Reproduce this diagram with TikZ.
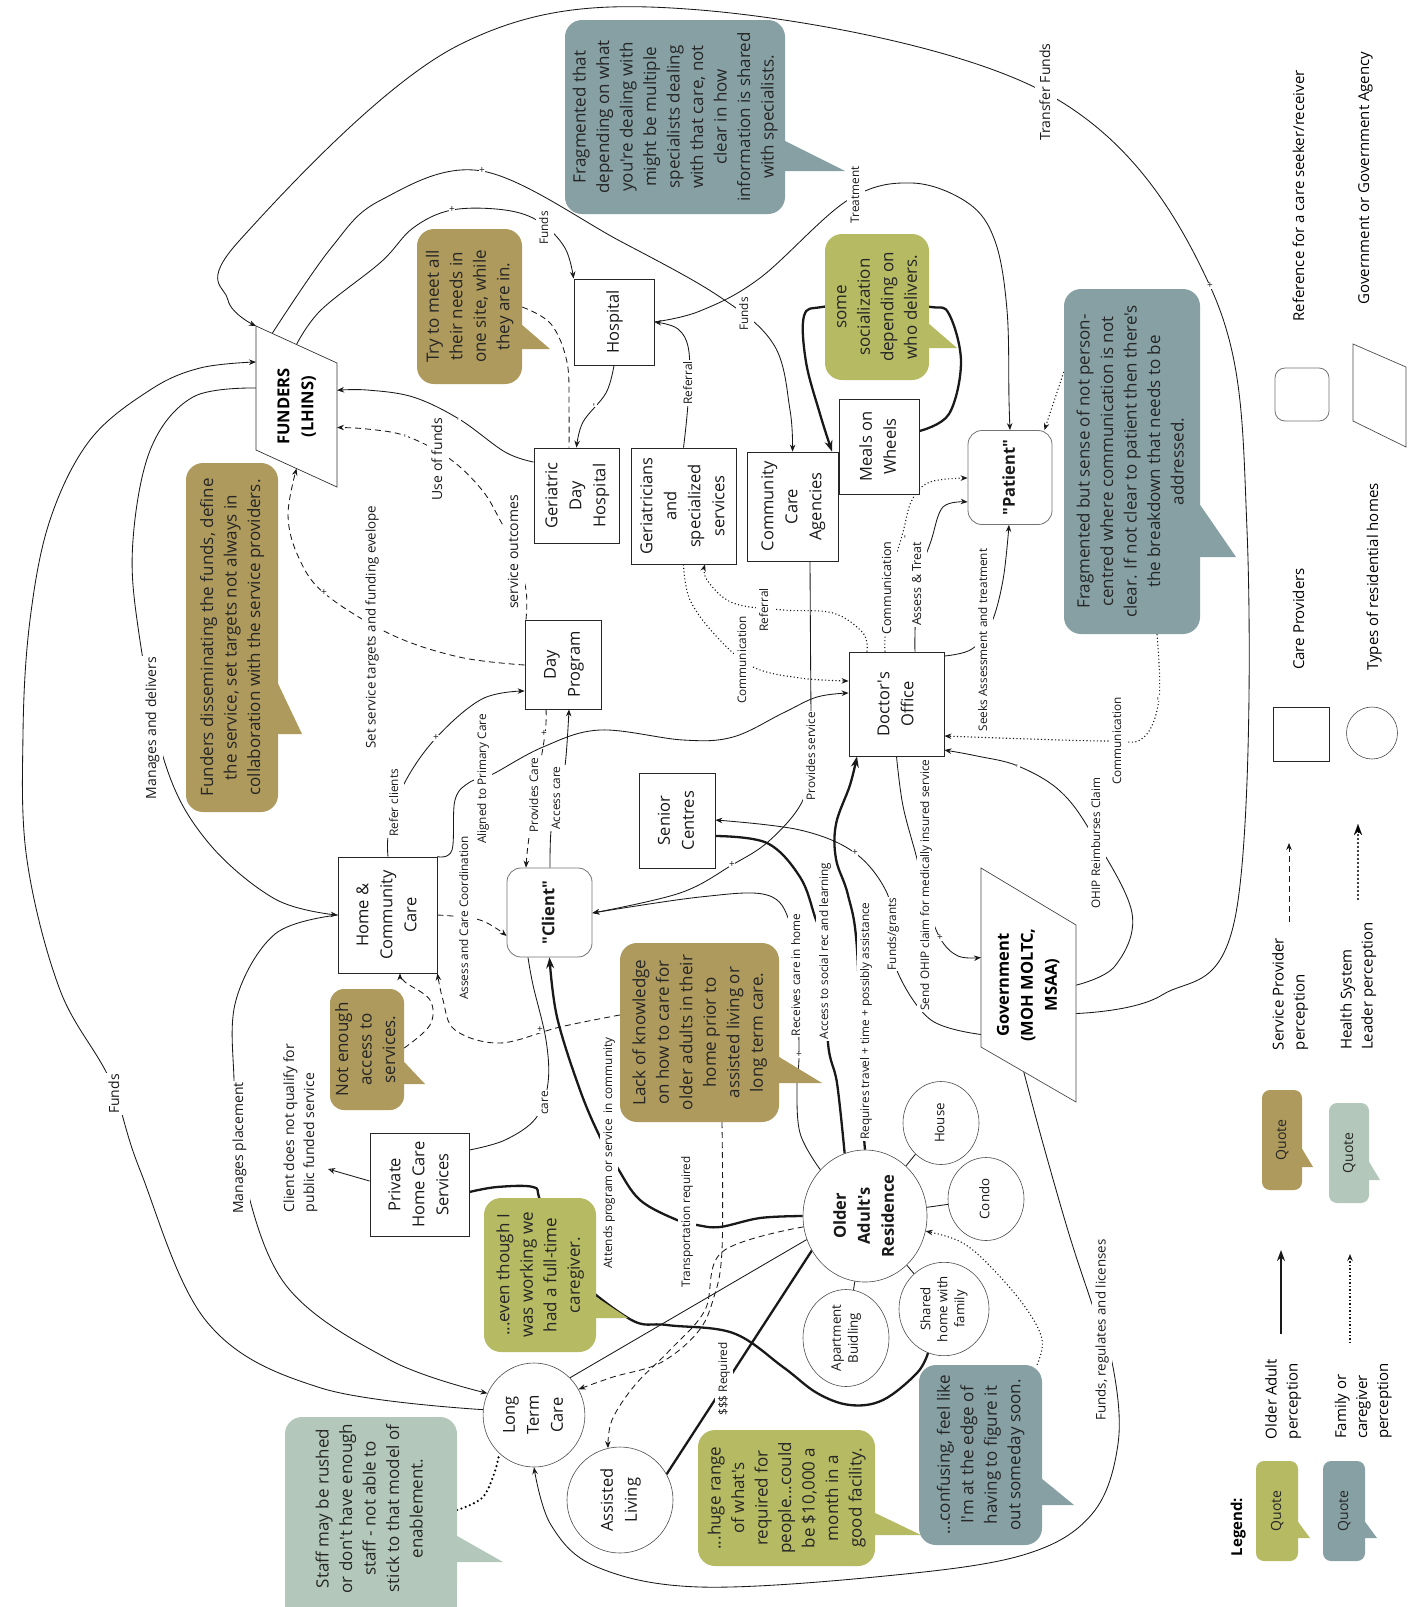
\documentclass[tikz,border=0pt]{standalone}
\usepackage{fontspec}
\setmainfont{Open Sans}[Ligatures=TeXOff]
\usepackage{graphicx}
\usetikzlibrary{arrows.meta,shapes.geometric,calc,backgrounds}
\newcommand\RT[3]{\rotatebox{90}{#2\begin{tabular}{@{}#1@{}}#3\end{tabular}}}
\newcommand\BXF{\fontsize{16.5}{24}\selectfont}
\newcommand\BBF{\fontsize{17}{23.5}\selectfont}
\newcommand\LSF{\fontsize{11.8}{15}\selectfont}
\newcommand\LMF{\fontsize{14}{20}\selectfont}
\newcommand\LGF{\fontsize{15}{21}\selectfont}
\newcommand\CSF{\fontsize{13.3}{17}\selectfont}
\definecolor{cblue}{HTML}{86A0A4}
\definecolor{colive}{HTML}{AE9A5C}
\definecolor{clime}{HTML}{B5BA63}
\definecolor{csage}{HTML}{B3C8BB}
\begin{document}
\begin{tikzpicture}[x=1pt,y=-1pt,
  box/.style={draw=black!85, line width=0.8pt, fill=white, inner sep=0pt, text=black!90},
  rbox/.style={box, draw=black!55, rounded corners=14pt},
  circ/.style={ellipse, draw=black!70, line width=0.6pt, fill=white, inner sep=0pt, text=black!90},
  bub/.style={rounded corners=17pt, inner sep=0pt, text=black!85},
  lbl/.style={fill=white, inner sep=1.2pt, text=black!90},
  ln/.style={line width=0.85pt, black!90},
  thk/.style={line width=2.3pt, black!90},
  arr/.style={-{Stealth[length=7pt,width=5.5pt]}},
  tarr/.style={-{Stealth[length=11pt,width=8pt]}},
  dsh/.style={dash pattern=on 6pt off 4pt},
  dts/.style={line width=1.1pt, dash pattern=on 1.1pt off 2.4pt},
  pm/.style={inner sep=0.3pt, fill=white, text=black!90},
  sm/.style={smooth, tension=0.6}]
\useasboundingbox (0,0) rectangle (1424,1607);

% ---------- parallelograms ----------
\coordinate (fTL) at (256,326); \coordinate (fTR) at (337,363);
\coordinate (fBR) at (337,487); \coordinate (fBL) at (256,450);
\draw[line width=0.7pt, black!80, fill=white] (fTL) -- (fTR) -- (fBR) -- (fBL) -- cycle;
\node (funders) at (296.5,406.5) {\RT{c}{\BXF\bfseries}{FUNDERS\\(LHINS)}};
\coordinate (gTL) at (981,868); \coordinate (gTR) at (1076,925);
\coordinate (gBR) at (1076,1102); \coordinate (gBL) at (981,1047);
\draw[line width=0.7pt, black!70, fill=white] (gTL) -- (gTR) -- (gBR) -- (gBL) -- cycle;
\node (gov) at (1028,985) {\RT{c}{\BXF\bfseries}{Government\\(MOH MOLTC,\\MSAA)}};

% ---------- boxes ----------
\node[box, minimum width=80pt, minimum height=86pt] (hosp) at (614,322) {\RT{c}{\BXF}{Hospital}};
\node[box, minimum width=85pt, minimum height=95pt] (gdh) at (576.5,495.5) {\RT{c}{\BXF}{Geriatric\\Day\\Hospital}};
\node[box, minimum width=105pt, minimum height=116pt] (geri) at (683.5,506) {\RT{c}{\BXF}{Geriatricians\\and\\specialized\\services}};
\node[box, minimum width=91pt, minimum height=109pt] (cca) at (792.5,506.5) {\RT{c}{\BXF}{Community\\Care\\Agencies}};
\node[box, minimum width=80pt, minimum height=95pt] (mow) at (879,446.5) {\RT{c}{\BXF}{Meals on\\Wheels}};
\node[rbox, minimum width=84pt, minimum height=94pt] (patient) at (1010,477.5) {\RT{c}{\BXF\bfseries}{"Patient"}};
\node[box, minimum width=76pt, minimum height=89pt] (dayp) at (563,664.5) {\RT{c}{\BXF}{Day\\Program}};
\node[box, minimum width=95pt, minimum height=104pt] (doc) at (896.5,704) {\RT{c}{\BXF}{Doctor's\\Office}};
\node[box, minimum width=76pt, minimum height=95pt] (senior) at (677,820.5) {\RT{c}{\BXF}{Senior\\Centres}};
\node[box, minimum width=99pt, minimum height=116pt] (hcc) at (387.5,915) {\RT{c}{\BXF}{Home \&\\Community\\Care}};
\node[rbox, minimum width=85pt, minimum height=89pt] (client) at (549.5,912.5) {\RT{c}{\BXF\bfseries}{"Client"}};
\node[box, minimum width=99pt, minimum height=103pt] (phc) at (419.5,1184.5) {\RT{c}{\BXF}{Private\\Home Care\\Services}};

% ---------- residences ----------
\node[circ, minimum width=124pt, minimum height=132pt] (oar) at (865,1216) {\RT{c}{\BXF\bfseries}{Older\\Adult's\\Residence}};
\node[circ, minimum width=76pt, minimum height=83pt] (house) at (941,1123) {\RT{c}{\CSF}{House}};
\node[circ, minimum width=76pt, minimum height=83pt] (condo) at (986,1199) {\RT{c}{\CSF}{Condo}};
\node[circ, minimum width=90pt, minimum height=92pt] (shared) at (944,1309) {\RT{c}{\CSF}{Shared\\home with\\family}};
\node[circ, minimum width=86pt, minimum height=97pt] (apt) at (846,1338) {\RT{c}{\CSF}{Apartment\\Buidling}};
\node[circ, minimum width=96pt, minimum height=104pt] (ltc) at (534,1415) {\RT{c}{\BXF}{Long\\Term\\Care}};
\node[circ, minimum width=106pt, minimum height=106pt] (al) at (620,1500) {\RT{c}{\BXF}{Assisted\\Living}};

% ---------- speech bubbles ----------
\node[bub, fill=cblue, minimum width=220pt, minimum height=194pt] (b1) at (675,117) {\RT{c}{\BBF}{Fragmented that\\depending on what\\you're dealing with\\might be multiple\\specialists dealing\\with that care, not\\clear in how\\information is shared\\with specialists.}};
\fill[cblue] (b1.east |- 0,141) -- (845,171) -- (b1.east |- 0,171) -- cycle;
\node[bub, fill=colive, minimum width=105pt, minimum height=155pt] (b2) at (469.5,306.5) {\RT{c}{\BBF}{Try to meet all\\their needs in\\one site, while\\they are in.}};
\fill[colive] (b2.east |- 0,325) -- (550,349) -- (b2.east |- 0,349) -- cycle;
\node[bub, fill=colive, minimum width=92pt, minimum height=349pt] (b3) at (232,637.5) {\RT{c}{\BBF}{Funders disseminating the funds, define\\the service, set targets not always in\\collaboration with the service providers.}};
\fill[colive] (b3.east |- 0,684) -- (302,734) -- (b3.east |- 0,734) -- cycle;
\node[bub, fill=clime, minimum width=104pt, minimum height=146pt] (b4) at (877,307) {\RT{c}{\BBF}{some\\socialization\\depending on\\who delivers.}};
\fill[clime] (b4.east |- 0,324) -- (957,348) -- (b4.east |- 0,348) -- cycle;
\node[bub, fill=cblue, minimum width=136pt, minimum height=345pt] (b5) at (1132,461.5) {\RT{c}{\BBF}{Fragmented but sense of not person-\\centred where communication is not\\clear. If not clear to patient then there's\\the breakdown that needs to be\\addressed.}};
\fill[cblue] (b5.east |- 0,505) -- (1236,557) -- (b5.east |- 0,557) -- cycle;
\node[bub, fill=colive, minimum width=74pt, minimum height=121pt, rounded corners=14pt] (b6) at (367,1049.5) {\RT{c}{\BBF}{Not enough\\access to\\services.}};
\fill[colive] (b6.east |- 0,1062) -- (425,1084) -- (b6.east |- 0,1084) -- cycle;
\node[bub, fill=colive, minimum width=159pt, minimum height=179pt] (b7) at (699.5,1032.5) {\RT{c}{\BBF}{Lack of knowledge\\on how to care for\\older adults in their\\home prior to\\assisted living or\\long term care.}};
\fill[colive] (b7.east |- 0,1057) -- (822,1083) -- (b7.east |- 0,1083) -- cycle;
\node[bub, fill=clime, minimum width=112pt, minimum height=154pt] (b8) at (540,1275) {\RT{c}{\BBF}{...even though I\\was working we\\had a full-time\\caregiver.}};
\fill[clime] (b8.east |- 0,1297) -- (628,1318) -- (b8.east |- 0,1318) -- cycle;
\fill[csage] (285,1560) rectangle (457,1612);
\node[bub, fill=csage, minimum width=172pt, minimum height=183pt] (b9) at (371,1508.5) {\RT{c}{\BBF}{Staff may be rushed\\or don't have enough\\staff - not able to\\stick to that model of\\enablement.}};
\fill[csage] (b9.east |- 0,1536) -- (503,1562) -- (b9.east |- 0,1562) -- cycle;
\node[bub, fill=clime, minimum width=177pt, minimum height=136pt] (b10) at (786.5,1498) {\RT{c}{\BBF}{...huge range\\of what's\\required for\\people...could\\be \$10,000 a\\month in a\\good facility.}};
\fill[clime] (b10.east |- 0,1513) -- (921,1535) -- (b10.east |- 0,1535) -- cycle;
\node[bub, fill=cblue, minimum width=123pt, minimum height=180pt] (b11) at (980.5,1455) {\RT{c}{\BBF}{...confusing, feel like\\I'm at the edge of\\having to figure it\\out someday soon.}};
\fill[cblue] (b11.east |- 0,1479) -- (1074,1505) -- (b11.east |- 0,1505) -- cycle;

% ---------- connectors (behind) ----------
\begin{pgfonlayer}{background}
\fill[white] (0,0) rectangle (1424,1607);
\draw[ln,arr] plot[sm] coordinates {($(gTR)!0.5!(gBR)$) (1162,995) (1236,913) (1247,530) (1210,286) (1046,93) (700,10) (459,45) (239,241) (228,300) (fTL)};
\draw[ln,arr] plot[sm] coordinates {($(fTL)!0.2!(fTR)$) (331,248) (381,200) (482,171) (620,241) (720,297) (774,345) (790,410) (cca.north)};
\draw[ln,arr] plot[sm] coordinates {($(fTL)!0.5!(fTR)$) (321,310) (381,262) (413,228) (452,210) (505,210) (540,222) (565,248) (hosp.north west)};
\draw[ln,arr] plot[sm] coordinates {(geri.north) (688,403) (689,352) (678,329) (hosp.east)};
\draw[ln,arr] plot[sm] coordinates {(hosp.east) (700,311) (760,278) (848,200) (912,183) (968,203) (995,241) (1007,310) (1009,400) (patient.north)};
\draw[ln,arr] plot[sm] coordinates {(hosp.south) (606,393) (583,422) (gdh.north)};
\draw[ln,dsh] plot[sm] coordinates {(b2.east |- 0,307) (551,324) (567,362) (569,410) (gdh.north -| 569,0)};
\draw[ln,arr] plot[sm] coordinates {(gdh.west |- 0,462) (505,452) (459,419) (413,397) (367,390) ($(fTR)!0.22!(fBR)$)};
\draw[ln,dsh,arr] plot[sm] coordinates {(dayp.north -| 526,0) (526,590) (515,550) (500,520) (482,490) (450,459) (406,436) (367,429) ($(fTR)!0.52!(fBR)$)};
\draw[ln,dsh,arr] plot[sm] coordinates {(dayp.west |- 0,665) (459,657) (390,634) (324,593) (298,556) (288,515) ($(fBL)!0.5!(fBR)$)};
\draw[ln,arr] plot[sm] coordinates {($(fTL)!0.5!(fBL)$) (193,397) (151,448) (133,540) (138,627) (165,763) (207,841) (275,899) (hcc.west)};
\draw[ln,arr] plot[sm] coordinates {(ltc.174) (321,1388) (207,1322) (140,1170) (110,1080) (60,990) (27,860) (23,734) (30,620) (50,520) (90,440) (150,390) (200,368) ($(fTL)!0.29!(fBL)$)};
\draw[ln,arr] plot[sm] coordinates {(hcc.west) (275,934) (236,1000) (234,1080) (240,1160) (285,1284) (390,1360) (ltc.155)};
\coordinate (cq) at (328,1169);
\draw[ln,-{Stealth[open,length=7pt,width=6pt]}] (phc.west |- 0,1181) -- (cq);
\draw[ln] plot[sm] coordinates {(phc.east |- 0,1150) (505,1140) (536,1118) (548,1083) (546,1040) (533,985) (client.south -| 528,0)};
\draw[thk,tarr] plot[sm] coordinates {(oar.west) (760,1218) (720,1227) (697,1225) (677,1220) (640,1200) (617,1167) (600,1137) (580,1090) (557,1017) (client.south)};
\draw[ln,dsh,arr] plot[sm] coordinates {(b7.west |- 0,1015) (560,1027) (500,1043) (455,1030) (443,1000) (hcc.south east)};
\draw[ln,dsh,arr] plot[sm] coordinates {(b6.east |- 0,1048) (430,1025) (430,1000) (405,982) (hcc.south -| 400,0)};
\draw[ln,dsh,arr] plot[sm] coordinates {(hcc.east) (480,920) (client.west |- 0,936)};
\draw[ln,arr] plot[sm] coordinates {(hcc.north -| 388,0) (389,830) (404,784) (436,738) (482,699) (dayp.west |- 0,691)};
\draw[ln,arr] plot[sm] coordinates {(hcc.north east) (452,850) (455,800) (470,782) (491,775) (543,747) (600,730) (683,740) (733,737) (783,713) (817,697) (doc.west |- 0,693)};
\draw[ln,dsh,arr] plot[sm] coordinates {(dayp.south -| 546,0) (545,734) (535,795) (528,845) (client.north -| 526,0)};
\draw[ln,arr] plot[sm] coordinates {(client.north -| 550,0) (551,831) (557,798) (565,766) (dayp.south -| 569,0)};
\draw[ln,arr] plot[sm] coordinates {($(gTL)!0.93!(gBL)$) (931,1020) (898,973) (893,934) (887,893) (855,853) (800,830) (senior.east |- 0,820)};
\draw[thk] plot[sm] coordinates {(oar.108) (837,1083) (828,1043) (825,951) (815,917) (800,877) (767,843) (senior.east |- 0,836)};
\draw[ln,arr] plot[sm] coordinates {(oar.134) (800,1133) (797,1083) (799,1055) (797,975) (790,923) (767,895) (700,897) (client.east |- 0,913)};
\draw[ln,arr] plot[sm] coordinates {(cca.south -| 810,0) (811,713) (812,756) (802,802) (769,841) (732,865) (680,893) (client.east |- 0,913)};
\draw[thk,tarr] plot[sm] coordinates {(oar.north) (862,1100) (857,949) (848,895) (836,859) (836,824) (850,785) (doc.south -| 857,0)};
\draw[ln,arr] plot[sm] coordinates {(doc.south) (903,806) (917,859) (926,900) (940,938) (958,956) ($(gTL)!0.5!(gBL)$)};
\draw[ln,arr] plot[sm] coordinates {($(gTR)!0.34!(gBR)$) (1115,966) (1132,913) (1092,834) (1060,791) (1018,766) (977,756) (doc.east |- 0,750)};
\draw[ln,dts,arr] plot[sm] coordinates {(b5.south -| 1157,0) (1159,699) (1143,738) (1106,741) (1000,738) (doc.east |- 0,736)};
\draw[ln,arr] plot[sm] coordinates {(doc.east |- 0,656) (972,649) (991,624) (1003,580) (patient.south -| 1009,0)};
\draw[ln,arr] plot[sm] coordinates {(doc.north -| 915,0) (915,634) (917,584) (931,541) (943,507) (patient.west |- 0,502)};
\draw[ln,dts,arr] plot[sm] coordinates {(doc.north -| 885,0) (885,638) (888,588) (903,532) (912,500) (930,482) (patient.west |- 0,478)};
\draw[ln,dts,arr] plot[sm] coordinates {(geri.south) (690,600) (717,637) (753,667) (800,678) (doc.west |- 0,681)};
\draw[ln,dts,arr] plot[sm] coordinates {(doc.north -| 867,0) (863,633) (833,613) (783,610) (733,603) (707,580) (geri.south -| 705,0)};
\draw[thk,tarr] plot[sm] coordinates {(mow.east |- 0,431) (949,414) (961,362) (949,314) (931,307) (876,304) (822,307) (804,316) (806,362) (820,414) (cca.north -| 832,0)};
\draw[thk] plot[sm] coordinates {(phc.east |- 0,1192) (497,1187) (533,1187) (540,1200) (560,1260) (628,1318) (667,1325) (733,1333) (783,1367) (817,1393) (850,1405) (883,1400) (917,1373) (shared.250)};
\draw[ln] (ltc.46) -- (oar.202);
\draw[thk] (al.29) -- (oar.213);
\draw[ln,dsh,arr] plot[sm] coordinates {(b7.south -| 722,0) (722,1250) (713,1300) (697,1333) (660,1363) (613,1377) (ltc.30)};
\draw[ln,dsh,arr] plot[sm] coordinates {(oar.190) (722,1252) (705,1310) (670,1350) (635,1385) (612,1420) (al.103)};
\draw[ln,arr] plot[sm] coordinates {($(gBL)!0.45!(gBR)$) (1042,1140) (1069,1234) (1092,1304) (1113,1367) (1118,1444) (1092,1514) (1023,1555) (885,1576) (700,1587) (597,1567) (551,1525) (ltc.south)};
\draw[ln,dts,arr] plot[sm] coordinates {(b11.north -| 1037,0) (1042,1339) (1023,1304) (986,1262) (959,1241) (oar.346)};
\draw[line width=2.4pt, dash pattern=on 0pt off 4.5pt, line cap=round] plot[sm] coordinates {(b9.east |- 0,1510) (482,1498) (494,1474) (ltc.228)};
\draw[ln,dts,arr] (b5.west |- 0,372) -- ([xshift=-8pt]patient.north east);
\draw[ln] (oar) -- (house);
\draw[ln] (oar) -- (condo);
\draw[ln] (oar) -- (shared);
\draw[ln] (oar) -- (apt);
\end{pgfonlayer}

% ---------- connector labels ----------
\node[lbl] (l1) at (1046,92) {\RT{c}{\LMF}{Transfer Funds}};
\node[lbl] (l2) at (745,314) {\RT{c}{\LSF}{Funds}};
\node[lbl] (l3) at (545,228) {\RT{c}{\LSF}{Funds}};
\node[lbl] (l4) at (689,383) {\RT{c}{\LSF}{Referral}};
\node[lbl] (l5) at (856,195) {\RT{c}{\LSF}{Treatment}};
\node[lbl] (l6) at (438,459) {\RT{c}{\LMF}{Use of funds}};
\node[lbl] (l7) at (514,552) {\RT{c}{\LMF}{service outcomes}};
\node[lbl] (l8) at (372,627) {\RT{c}{\fontsize{13.3}{18}\selectfont}{Set service targets and funding evelope}};
\node[lbl] (l9) at (152,728) {\RT{c}{\LMF}{Manages and delivers}};
\node[lbl] (l10) at (115,1094) {\RT{c}{\LMF}{Funds}};
\node[lbl] (l11) at (239,1148) {\RT{c}{\LMF}{Manages placement}};
\node[lbl] (l12) at (300,1128) {\RT{l}{\LMF}{Client does not qualify for\\public funded service}};
\node[lbl] (l13) at (545,1103) {\RT{c}{\LSF}{care}};
\node[lbl] (l14) at (609,1153) {\RT{c}{\LSF}{Attends program or service \ in community}};
\node[lbl] (l15) at (687,1222) {\RT{c}{\LSF}{Transportation required}};
\node[lbl] (l16) at (465,918) {\RT{c}{\LSF}{Assess and Care Coordination}};
\node[lbl] (l17) at (395,803) {\RT{c}{\LSF}{Refer clients}};
\node[lbl] (l18) at (483,779) {\RT{c}{\LSF}{Aligned to Primary Care}};
\node[lbl] (l19) at (535,795) {\RT{c}{\LSF}{Provides Care}};
\node[lbl] (l20) at (557,798) {\RT{c}{\LSF}{Access care}};
\node[lbl] (l21) at (743,660) {\RT{c}{\LSF}{Communication}};
\node[lbl] (l22) at (765,610) {\RT{c}{\LSF}{Referral}};
\node[lbl] (l23) at (888,588) {\RT{c}{\fontsize{12.5}{16}\selectfont}{Communication}};
\node[lbl] (l24) at (918,584) {\RT{c}{\fontsize{12.5}{16}\selectfont}{Assess \& Treat}};
\node[lbl] (l25) at (984,640) {\RT{c}{\LSF}{Seeks Assessment and treatment}};
\node[lbl] (l26) at (812,756) {\RT{c}{\LSF}{Provides service}};
\node[lbl] (l27) at (1118,741) {\RT{c}{\LSF}{Communication}};
\node[lbl] (l28) at (1097,843) {\RT{c}{\LSF}{OHIP Reimburses Claim}};
\node[lbl] (l29) at (926,885) {\RT{c}{\LSF}{Send OHIP claim for medically insured service}};
\node[lbl] (l30) at (893,934) {\RT{c}{\LSF}{Funds/grants}};
\node[lbl] (l31) at (866,1021) {\RT{c}{\LSF}{Requires travel + time + possibly assistance}};
\node[lbl] (l32) at (825,951) {\RT{c}{\LSF}{Access to social rec and learning}};
\node[lbl] (l33) at (797,975) {\RT{c}{\LSF}{Receives care in home}};
\node[lbl] (l34) at (724,1379) {\RT{c}{\LSF}{\$\$\$ Required}};
\node[lbl] (l35) at (1102,1330) {\RT{c}{\fontsize{13.3}{18}\selectfont}{Funds, regulates and licenses}};

% ---------- polarity marks ----------
\foreach \px/\py [count=\i] in {482/171, 452/210, 1210/286, 324/593, 436/738, 544/734, 540/1030, 799/1055, 855/853, 732/865, 940/938}
  \node[pm] (p\i) at (\px,\py) {\fontsize{10}{10}\selectfont +};
\foreach \px/\py [count=\i] in {595/405, 459/419, 406/436, 1018/766, 1159/699, 906/537}
  \node[pm] (m\i) at (\px,\py) {\rotatebox{90}{\fontsize{10}{10}\selectfont -}};

% ---------- legend ----------
\node (lg0) at (1238,1527) {\RT{c}{\fontsize{15}{20}\selectfont\bfseries}{Legend:}};
\node[bub, fill=clime, minimum width=42pt, minimum height=100pt, rounded corners=8pt] (lq1) at (1277,1511) {\RT{c}{\LMF}{Quote}};
\fill[clime] (lq1.east |- 0,1522) -- (1310,1538) -- (lq1.east |- 0,1538) -- cycle;
\node[bub, fill=cblue, minimum width=42pt, minimum height=100pt, rounded corners=8pt] (lq2) at (1344,1511) {\RT{c}{\LMF}{Quote}};
\fill[cblue] (lq2.east |- 0,1522) -- (1377,1538) -- (lq2.east |- 0,1538) -- cycle;
\node[bub, fill=colive, minimum width=40pt, minimum height=100pt, rounded corners=8pt] (lq3) at (1282,1140) {\RT{c}{\LMF}{Quote}};
\fill[colive] (lq3.east |- 0,1149) -- (1313,1167) -- (lq3.east |- 0,1167) -- cycle;
\node[bub, fill=csage, minimum width=40pt, minimum height=100pt, rounded corners=8pt] (lq4) at (1349,1153) {\RT{c}{\LMF}{Quote}};
\fill[csage] (lq4.east |- 0,1162) -- (1380,1180) -- (lq4.east |- 0,1180) -- cycle;
\node (lt1) at (1283,1399) {\RT{l}{\LGF}{Older Adult\\perception}};
\node (lt2) at (1363,1401) {\RT{l}{\LGF}{Family or\\caregiver\\perception}};
\node (lt3) at (1290,994) {\RT{l}{\LGF}{Service Provider\\perception}};
\node (lt4) at (1358,986) {\RT{l}{\LGF}{Health System\\Leader perception}};
\coordinate (la1) at (1281,1334); \coordinate (la2) at (1281,1250);
\coordinate (la3) at (1350,1343); \coordinate (la4) at (1350,1254);
\coordinate (la5) at (1289,922); \coordinate (la6) at (1289,843);
\coordinate (la7) at (1358,899); \coordinate (la8) at (1358,824);
\draw[thk,tarr] (la1) -- (la2);
\draw[ln,dts,arr] (la3) -- (la4);
\draw[ln,dsh,arr] (la5) -- (la6);
\draw[line width=2.2pt, dash pattern=on 0pt off 4pt, line cap=round] (la7) -- ([yshift=-10pt]la8);
\draw[line width=0.1pt, -{Stealth[length=11pt,width=8pt]}] ([yshift=-9pt]la8) -- (la8);
\node[box, minimum width=56pt, minimum height=54pt] (lsq) at (1301,734) {};
\node[circ, minimum width=51pt, minimum height=52pt] (lci) at (1372,733) {};
\node[rbox, minimum width=54pt, minimum height=53pt, rounded corners=10pt] (lrs) at (1302,394.5) {};
\coordinate (pTL) at (1353,344); \coordinate (pTR) at (1406,367);
\coordinate (pBR) at (1406,447); \coordinate (pBL) at (1353,421);
\draw[line width=0.7pt, black!70] (pTL) -- (pTR) -- (pBR) -- (pBL) -- cycle;
\node (lt5) at (1300,619) {\RT{c}{\LGF}{Care Providers}};
\node (lt6) at (1374,577) {\RT{c}{\LGF}{Types of residential homes}};
\node (lt7) at (1300,196) {\RT{c}{\LGF}{Reference for a care seeker/receiver}};
\node (lt8) at (1365,178) {\RT{c}{\LGF}{Government or Government Agency}};
\end{tikzpicture}
\end{document}
